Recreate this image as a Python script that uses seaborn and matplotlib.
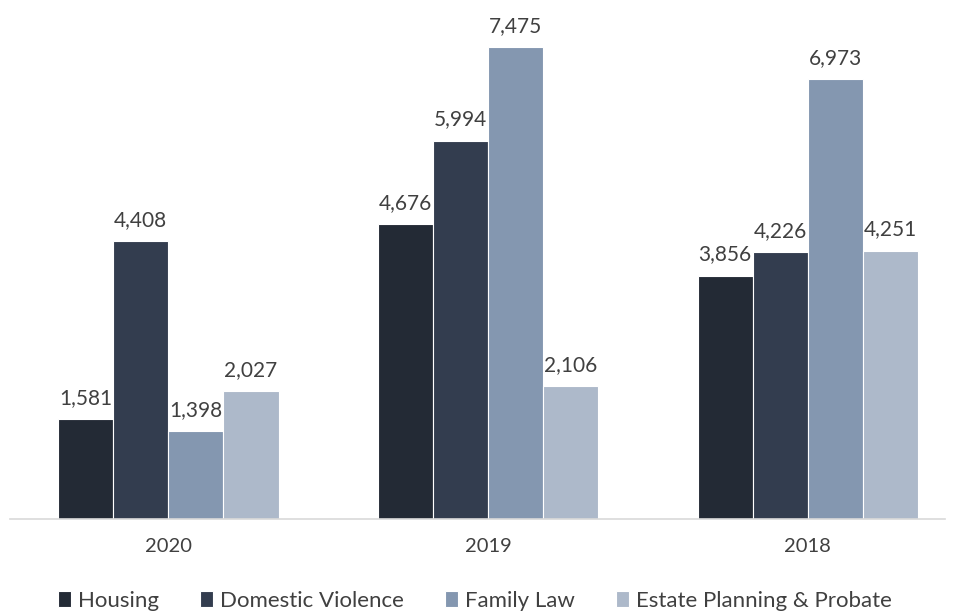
import pandas as pd
import seaborn as sns
import matplotlib.pyplot as plt

years = ["2020", "2019", "2018"]
categories = ["Housing", "Domestic Violence", "Family Law", "Estate Planning & Probate"]
housing = [1581, 4676, 3856]
domestic_violence = [4408, 5994, 4226]
family_law = [1398, 7475, 6973]
estate_planning = [2027, 2106, 4251]
colors = ["#232a35", "#333d4f", "#8497b0", "#adb9ca"]

rows = []
for cat, vals in zip(categories, [housing, domestic_violence, family_law, estate_planning]):
    for y, v in zip(years, vals):
        rows.append({"Year": y, "Category": cat, "Value": v})
df = pd.DataFrame(rows)

sns.set_style("white")
plt.rcParams["font.family"] = ["Lato", "DejaVu Sans"]

fig = plt.figure(figsize=(9.55, 6.14), dpi=100)
ax = fig.add_axes([0.0, 0.1547, 1.0, 0.845])
sns.barplot(data=df, x="Year", y="Value", hue="Category", order=years,
            hue_order=categories, palette=colors, saturation=1, width=0.69, ax=ax,
            edgecolor="white", linewidth=0.8, errorbar=None)

for cont in ax.containers:
    ax.bar_label(cont, labels=[f"{int(v):,}" for v in cont.datavalues],
                 padding=8, fontsize=15, color="#404040")

ax.set_xlim(-0.526, 2.46)
ax.set_ylim(0, 8220)
ax.set_xlabel("")
ax.set_ylabel("")
ax.set_yticks([])
ax.tick_params(axis="x", length=0, labelsize=14.5, colors="#404040", pad=14)
for s in ["top", "right", "left"]:
    ax.spines[s].set_visible(False)
ax.spines["bottom"].set_color("#d9d9d9")
ax.spines["bottom"].set_linewidth(1.2)
ax.spines["bottom"].set_bounds(-0.495, 2.43)

ax.legend(loc="lower center", bbox_to_anchor=(0.497, -0.215), ncol=4, frameon=False,
          fontsize=16, handlelength=0.6, handleheight=0.7, handletextpad=0.3,
          columnspacing=1.85, labelcolor="#404040")

fig.savefig("out.png", dpi=100)
